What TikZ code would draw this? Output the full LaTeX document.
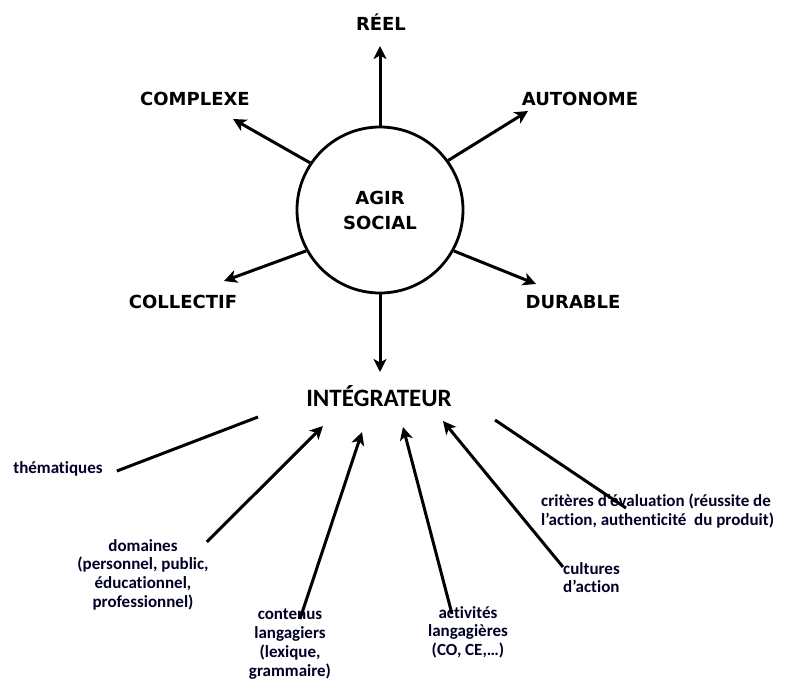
\documentclass[tikz,border=0pt]{standalone}
\usepackage{fontspec}
\setmainfont{Carlito}[Ligatures=NoCommon]
\newfontfamily\verdfont{DejaVu Sans}
\usetikzlibrary{arrows.meta}
\begin{document}
\begin{tikzpicture}[x=1pt, y=-1pt,
  big/.style={font=\verdfont\bfseries\fontsize{18}{25}\selectfont, inner sep=0pt},
  small/.style={font=\bfseries\fontsize{17}{18.8}\selectfont, inner sep=0pt, text=black!85!blue},
  arr/.style={line width=3pt, -{Stealth[length=13pt,width=13pt,inset=3.5pt]}},
  ln/.style={line width=3pt}]
  \useasboundingbox (0,0) rectangle (787,688);
  \node[draw, circle, line width=2.8pt, minimum size=166pt, big, align=center] (soc) at (380,210) {AGIR\\SOCIAL};
  \node[big] (reel) at (381,22) {RÉEL};
  \node[big] (complexe) at (195,99) {COMPLEXE};
  \node[big] (autonome) at (580,99) {AUTONOME};
  \node[big] (collectif) at (183,302) {COLLECTIF};
  \node[big] (durable) at (573,302) {DURABLE};
  \node[font=\bfseries\fontsize{25}{25}\selectfont, inner sep=0pt] (integ) at (379,396) {INTÉGRATEUR};
  \coordinate (t-reel) at (380,46);
  \coordinate (t-complexe) at (233,119);
  \coordinate (t-autonome) at (528,111);
  \coordinate (t-collectif) at (224,281);
  \coordinate (t-durable) at (536,284);
  \coordinate (t-integ) at (380,372);
  \draw[arr] (soc.north) -- (t-reel);
  \draw[arr] (soc.146) -- (t-complexe);
  \draw[arr] (soc.36) -- (t-autonome);
  \draw[arr] (soc.209) -- (t-collectif);
  \draw[arr] (soc.331) -- (t-durable);
  \draw[arr] (soc.south) -- (t-integ);

  \node[small] (them) at (58,469) {thématiques};
  \node[small, align=center, anchor=north] (dom) at (143,539) {domaines\\(personnel, public,\\éducationnel,\\professionnel)};
  \node[small, align=center, anchor=north] (cont) at (290,609) {contenus\\langagiers\\(lexique,\\grammaire)};
  \node[small, align=center, anchor=north] (act) at (468,606) {activités\\langagières\\(CO, CE,…)};
  \node[small, align=left, anchor=north west] (cult) at (563,562) {cultures\\d’action};
  \node[small, align=left, anchor=north west] (crit) at (541,494) {critères d’évaluation (réussite de\\l’action, authenticité~ du produit)};
  \coordinate (e-them) at (258,417);
  \coordinate (t-dom) at (323,426);
  \coordinate (t-cont) at (362,432);
  \coordinate (t-act) at (403,427);
  \coordinate (t-cult) at (443,421);
  \coordinate (e-crit) at (495,420);
  \draw[ln] ([xshift=14pt,yshift=-2pt]them.east) -- (e-them);
  \draw[arr] ([xshift=-2pt,yshift=-3pt]dom.north east) -- (t-dom);
  \draw[arr] ([xshift=10pt,yshift=-10pt]cont.north) -- (t-cont);
  \draw[arr] ([xshift=-16pt,yshift=-8pt]act.north) -- (t-act);
  \draw[arr] ([yshift=-5pt]cult.north west) -- (t-cult);
  \draw[ln] ([xshift=85pt,yshift=-14pt]crit.north west) -- (e-crit);
\end{tikzpicture}
\end{document}
